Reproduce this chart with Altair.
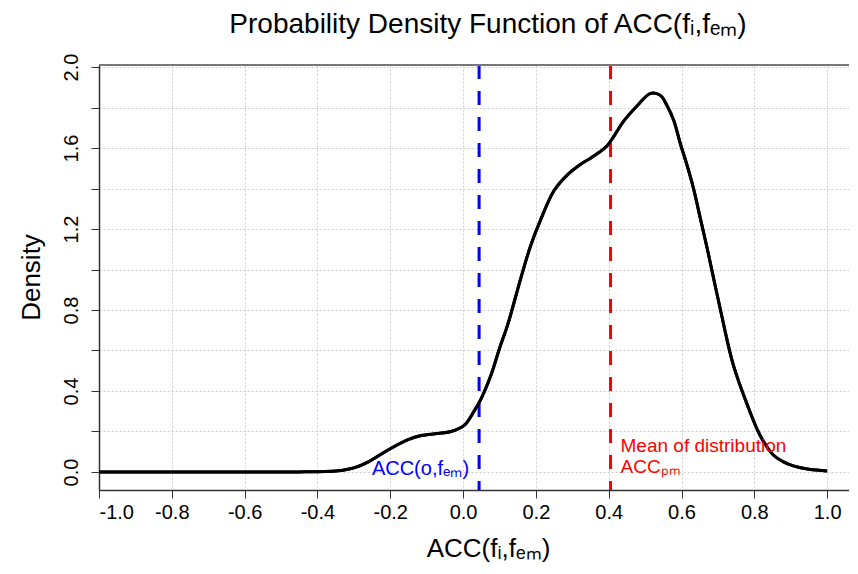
import altair as alt
import pandas as pd

# ---- data ----
acc_x = [-1.0, -0.8, -0.6, -0.45, -0.40, -0.36, -0.33, -0.30, -0.26, -0.205,
         -0.151, -0.115, -0.07, -0.033, 0.003, 0.03, 0.049, 0.077, 0.10, 0.123,
         0.159, 0.186, 0.214, 0.25, 0.288, 0.323, 0.35, 0.375, 0.395, 0.415,
         0.44, 0.479, 0.515, 0.542, 0.56, 0.578, 0.597, 0.616, 0.633, 0.652,
         0.671, 0.707, 0.742, 0.781, 0.816, 0.852, 0.88, 0.907, 0.95, 1.0]
density = [0, 0, 0, 0.0005, 0.001, 0.004, 0.009, 0.02, 0.05, 0.11,
           0.16, 0.18, 0.19, 0.20, 0.23, 0.30, 0.36, 0.48, 0.61, 0.73,
           0.96, 1.12, 1.25, 1.39, 1.47, 1.52, 1.55, 1.58, 1.61, 1.66,
           1.73, 1.81, 1.87, 1.86, 1.81, 1.74, 1.62, 1.51, 1.40, 1.25,
           1.10, 0.80, 0.53, 0.33, 0.18, 0.084, 0.05, 0.03, 0.013, 0.005]
obs_acc = [0.044]
mean_acc = [0.405]
x_ticks = [-1.0, -0.8, -0.6, -0.4, -0.2, 0.0, 0.2, 0.4, 0.6, 0.8, 1.0]
y_ticks = [0.0, 0.2, 0.4, 0.6, 0.8, 1.0, 1.2, 1.4, 1.6, 1.8, 2.0]

title_text = "Probability Density Function of ACC(f\u1d62,f\u2091\u2098)"
x_title = "ACC(f\u1d62,f\u2091\u2098)"
y_title = "Density"
obs_label = "ACC(o,f\u2091\u2098)"
mean_label1 = "Mean of distribution"
mean_label2 = "ACC\u209a\u2098"

FONT = "Liberation Sans"
W, H = 750, 425

xs = alt.Scale(domain=[-1.0, 1.06], nice=False, zero=False)
ys = alt.Scale(domain=[-0.089, 2.01], nice=False, zero=False)

curve_df = pd.DataFrame({"x": acc_x, "y": density})

curve = alt.Chart(curve_df).mark_line(
    color="black", strokeWidth=3, interpolate="catmull-rom"
).encode(
    x=alt.X("x:Q", scale=xs, axis=alt.Axis(
        values=x_ticks,
        labelExpr="replace(format(datum.value, '.1f'), '\u2212', '-')",
        title=x_title,
        titleX=389, titleY=66, titleAlign="center", titleBaseline="alphabetic",
        labelPadding=4, tickSize=8)),
    y=alt.Y("y:Q", scale=ys, axis=alt.Axis(
        values=y_ticks,
        labelExpr="abs(round(datum.value*10)) % 4 == 0 ? format(datum.value, '.1f') : ''",
        title=y_title, titleAngle=270, titleX=-68, titleY=212,
        titleAlign="center", titleBaseline="middle",
        labelAngle=270, labelAlign="center", labelBaseline="alphabetic",
        labelPadding=14, tickSize=8)),
)

obs_df = pd.DataFrame({"x": obs_acc, "y": [0.0], "t": [obs_label]})
mean_df = pd.DataFrame({"x": mean_acc, "y": [0.0], "t1": [mean_label1], "t2": [mean_label2]})

obs_rule = alt.Chart(obs_df).mark_rule(
    color="#0000FF", strokeWidth=3, strokeDash=[14, 12]
).encode(x=alt.X("x:Q", scale=xs))

mean_rule = alt.Chart(mean_df).mark_rule(
    color="#FF0000", strokeWidth=3, strokeDash=[14, 12]
).encode(x=alt.X("x:Q", scale=xs))

obs_text = alt.Chart(obs_df).mark_text(
    color="#0000FF", fontSize=20, font=FONT, align="right",
    baseline="alphabetic", dx=-10, dy=3
).encode(x=alt.X("x:Q", scale=xs), y=alt.Y("y:Q", scale=ys), text="t:N")

mean_text1 = alt.Chart(mean_df).mark_text(
    color="#FF0000", fontSize=19, font=FONT, align="left",
    baseline="alphabetic", dx=10, dy=-20
).encode(x=alt.X("x:Q", scale=xs), y=alt.Y("y:Q", scale=ys), text="t1:N")

mean_text2 = alt.Chart(mean_df).mark_text(
    color="#FF0000", fontSize=19, font=FONT, align="left",
    baseline="alphabetic", dx=10, dy=1
).encode(x=alt.X("x:Q", scale=xs), y=alt.Y("y:Q", scale=ys), text="t2:N")

top_border = alt.Chart(pd.DataFrame({"a": [0]})).mark_rule(
    color="#777777", strokeWidth=2
).encode(x=alt.value(0), x2=alt.value(W), y=alt.value(0))

chart = alt.layer(
    curve, obs_rule, mean_rule, curve, obs_text, mean_text1, mean_text2, top_border
).properties(
    width=W, height=H,
    title=alt.TitleParams(title_text, fontSize=28, fontWeight="normal",
                          font=FONT, anchor="middle", dx=14, offset=14,
                          color="black"),
    autosize=alt.AutoSizeParams(type="none"),
    padding={"left": 91, "top": 57, "right": 0, "bottom": 72},
).configure_view(
    stroke=None
).configure_axis(
    labelFont=FONT, titleFont=FONT, labelFontSize=20, titleFontSize=26,
    titleFontWeight="normal", labelColor="black", titleColor="black",
    domainColor="#333333", tickColor="#333333", domainWidth=1.5,
    gridColor="#cccccc", gridDash=[2, 2], gridWidth=1,
)

chart.save("out.html", embed_options={"renderer": "svg", "actions": False})
